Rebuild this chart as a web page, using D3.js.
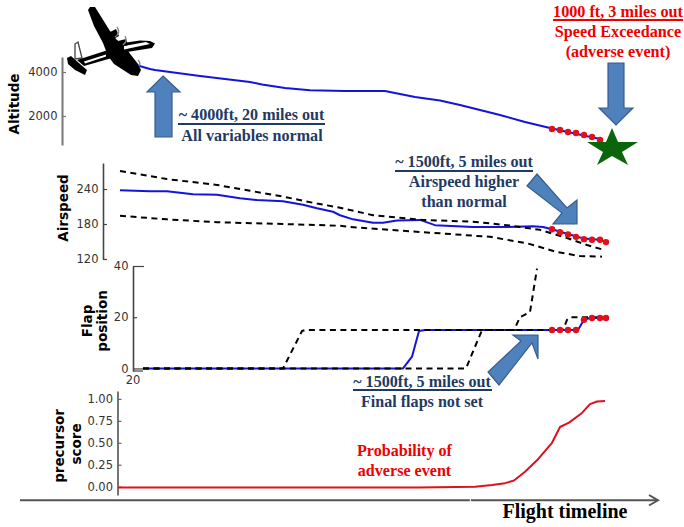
<!DOCTYPE html>
<html><head><meta charset="utf-8">
<script src="https://cdnjs.cloudflare.com/ajax/libs/d3/7.8.5/d3.min.js"></script>
<style>html,body{margin:0;padding:0;background:#fff}svg{display:block}</style></head>
<body><svg id="c" width="684" height="527"></svg>
<script>
// time axis shared by all panels (flight time index)
const altTime=[18,32,37,82,132,144,167,192,227,267,282,297,322,342,362,382,407,432,452,482];
const altitude=[4318,4136,4090,3818,3545,3432,3270,3170,3136,3136,3000,2864,2705,2500,2273,2045,1727,1455,1250,955];
const altDotTime=[434,442,450,458,466,474,482];
const altDots=[1409,1364,1273,1227,1136,1045,909];

const spdTime=[2,32,49,75,99,122,139,165,185,199,215,222,235,255,265,279,302,317,355,389,415,425,434,450,466,481,487];
const spdMean=[238,236,236,231,230,224,221,219,213,207,201,195,188,182,182,186,187,178,175,175,176,175,171,163,155,153,150];
const spdUpperTime=[2,49,99,132,165,199,222,232,255,305,355,389,422,449,469,487];
const spdUpper=[271,257,247,237,227,215,208,204,195,187,184,178,170,156,144,135];
const spdLowerTime=[2,49,99,165,222,232,272,322,372,409,439,462,484];
const spdLower=[194,188,183,180,177,175,170,164,158,147,132,125,124];
const spdDotTime=[434,442,450,458,466,474,482,488];
const spdDots=[171,166,162,158,154,153,153,149];

const flapTime=[25,285,294,301,307,320,457,460,466,472,488];
const flapMean=[0,0,4.6,14.6,15,15,15,15,19,19.7,19.7];
const flapUpperTime=[25,165,184,187,396,402,412,419];
const flapUpper=[0,0,14.6,15,15,20,22,39];
const flapLowerTime=[25,348,364,445,449,452,488];
const flapLower=[0,0,15,15,19,20,20];
const flapDotTime=[434,442,450,458,466,474,482,488];
const flapDots=[15,15,15,15,19,19.7,19.7,19.7];

const scoreTime=[0,100,200,300,357,374,387,396,407,419,434,442,451,464,472,479,487];
const score=[-0.01,-0.01,-0.01,-0.01,0,0.02,0.04,0.07,0.17,0.3,0.5,0.68,0.73,0.84,0.94,0.97,0.975];

const altTicks=[4000,2000], spdTicks=[240,180,120], flapTicks=[40,20,0], scoreTicks=[1,0.75,0.5,0.25,0];
const flapXLabel=["20"];

const BLUE="#1414dc",RED="#e0101c",DARK="#1f3a63",SERIF="'Liberation Serif',serif",SANS="'DejaVu Sans',sans-serif";
const svg=d3.select("#c");
const x=d3.scaleLinear().domain([0,488]).range([118,606]);
const yA=d3.scaleLinear().domain([682,4682]).range([145,57]);
const yS=d3.scaleLinear().domain([120,284.6]).range([259,163]);
const yF=d3.scaleLinear().domain([-1,40]).range([371,266]);
const yP=d3.scaleLinear().domain([-0.095,1.09]).range([495,391]);

function axis(scale,ticks,px,fmt,col,w){
  const g=svg.append("g").attr("transform",`translate(${px},0)`)
    .call(d3.axisLeft(scale).tickValues(ticks).tickSizeInner(-4).tickSizeOuter(0).tickPadding(4.5).tickFormat(fmt));
  g.select(".domain").attr("stroke",col).attr("stroke-width",w);
  g.selectAll(".tick line").attr("stroke",col).attr("stroke-width",1.2);
  g.selectAll("text").attr("font-family",SANS).attr("font-size",11.5).attr("fill","#333");
  return g;
}
function line(ts,vs,y,col,w,dash){
  const l=d3.line().x(d=>x(d[0])).y(d=>y(d[1]));
  const p=svg.append("path").attr("d",l(ts.map((t,i)=>[t,vs[i]]))).attr("fill","none")
    .attr("stroke",col).attr("stroke-width",w).attr("stroke-linejoin","round");
  if(dash)p.attr("stroke-dasharray",dash);
}
function dots(ts,vs,y){
  svg.append("g").selectAll("circle").data(ts).join("circle")
    .attr("cx",d=>x(d)).attr("cy",(d,i)=>y(vs[i])).attr("r",3.2).attr("fill",RED);
}
function txt(s,cx,by,col,size,font,weight){
  return svg.append("text").text(s).attr("x",cx).attr("y",by).attr("text-anchor","middle")
    .attr("fill",col).attr("font-size",size).attr("font-family",font||SERIF).attr("font-weight",weight||"bold");
}
function vtxt(s,cx,cy,size){
  svg.append("text").text(s).attr("transform",`translate(${cx},${cy}) rotate(-90)`).attr("text-anchor","middle")
    .attr("dominant-baseline","central").attr("font-family",SANS).attr("font-weight","bold").attr("font-size",size).attr("fill","#000");
}
function rule(x1,x2,y,col){svg.append("line").attr("x1",x1).attr("x2",x2).attr("y1",y).attr("y2",y).attr("stroke",col).attr("stroke-width",2);}
function poly(pts,fill,stroke,sw){
  svg.append("polygon").attr("points",pts.map(p=>p.join(",")).join(" ")).attr("fill",fill)
    .attr("stroke",stroke||"none").attr("stroke-width",sw||0).attr("stroke-linejoin","miter");
}

// axes
axis(yA,altTicks,62,d3.format("d"),"#777",2);
axis(yS,spdTicks,103,d3.format("d"),"#444",1.6);
const fa=axis(yF,flapTicks,133,d3.format("d"),"#444",1.6);
fa.selectAll(".tick line").filter(d=>d===40).attr("x2",11);
fa.selectAll(".tick line").filter(d=>d===0).attr("x2",10);
fa.append("line").attr("x1",0).attr("x2",10).attr("y1",yF(-1)).attr("y2",yF(-1)).attr("stroke","#444").attr("stroke-width",1.2);
axis(yP,scoreTicks,117.5,d3.format(".2f"),"#666",1.8);
svg.append("g").selectAll("text").data(flapXLabel).join("text").text(d=>d).attr("x",133).attr("y",384)
  .attr("text-anchor","middle").attr("font-family",SANS).attr("font-size",11.5).attr("fill","#333");

// axis titles
vtxt("Altitude",14,104,13.5);
vtxt("Airspeed",63,208,13.5);
vtxt("Flap",87,321,13.5);
vtxt("position",102,321,13.5);
vtxt("precursor",59,446,13.5);
vtxt("score",76,444,13.5);

// series
line(altTime,altitude,yA,BLUE,2);
dots(altDotTime,altDots,yA);
line(spdTime,spdMean,yS,BLUE,2);
line(spdUpperTime,spdUpper,yS,"#000",2,"6,4.5");
line(spdLowerTime,spdLower,yS,"#000",2,"6,4.5");
dots(spdDotTime,spdDots,yS);
line(flapTime,flapMean,yF,BLUE,2);
line(flapUpperTime,flapUpper,yF,"#000",2,"6,4.5");
line(flapLowerTime,flapLower,yF,"#000",2,"6,4.5");
dots(flapDotTime,flapDots,yF);
line(scoreTime,score,yP,RED,2);

// timeline arrow
svg.append("line").attr("x1",20).attr("x2",657).attr("y1",500.3).attr("y2",500.3).attr("stroke","#555").attr("stroke-width",2);
svg.append("line").attr("x1",470).attr("x2",470.8).attr("y1",498).attr("y2",503).attr("stroke","#fff").attr("stroke-width",1);
svg.append("path").attr("d","M649,495 L658,500.3 L649,505.5").attr("fill","none").attr("stroke","#555").attr("stroke-width",2);
txt("Flight timeline",565,518,"#000",20);

// star
poly([[612,128],[618,142],[638,142],[622,152],[628,165],[612,156],[597,165],[603,152],[587,142],[606,142]],"#0b660b");

// callout arrows
const AF="#4f81bd",AS="#385d8a";
poly([[163,76],[180,92],[172,92],[172,137],[155,137],[155,92],[147,92]],AF,AS,1.2);
poly([[608,63],[624,63],[624,108],[633,108],[616,125],[599,108],[608,108]],AF,AS,1.2);
poly([[527,186],[537,174],[567,208],[577,200],[577,224],[553,224],[562,213]],AF,AS,1.2);
poly([[538,335],[538,359],[532,343],[499,385],[488,372],[521,341],[513,335]],AF,AS,1.2);

// annotations
txt("1000 ft, 3 miles out",618,17,"#f00000",16.2); rule(553,683,20,"#f00000");
txt("Speed Exceedance",618,37,"#f00000",16.2);
txt("(adverse event)",618,57,"#f00000",16.2);
txt("~ 4000ft, 20 miles out",251.5,120,DARK,16.1); rule(178,325,124,DARK);
txt("All variables normal",252,141,DARK,16.1);
txt("~ 1500ft, 5 miles out",464,167,DARK,16.1); rule(395,533,171,DARK);
txt("Airspeed higher",464,187,DARK,16.1);
txt("than normal",464,207,DARK,16.1);
txt("~ 1500ft, 5 miles out",422,387,DARK,16.1); rule(353,492,390,DARK);
txt("Final flaps not set",422,407,DARK,16.1);
txt("Probability of",404.5,456,"#f00000",16.1);
txt("adverse event",404.5,476,"#f00000",16.1);

// aeroplane silhouette
const pl=svg.append("g");
function pp(d,fill,stroke,sw){pl.append("path").attr("d",d).attr("fill",fill).attr("stroke",stroke||"none").attr("stroke-width",sw||0);}
pp("M75,59 L75,44 L78,42 L82,58 Z","#fff","#444",1.3);
pp("M67,58 L71,56 L80,64 L87,70 L85,75 L75,70 L68,64 Z","#000");
pp("M88,10 L90,7 L95,7 L110,31 L116,39 L124,46 L138,64 L141,70 L138,76 L131,75 L114,64 L108,56 L103,43 L94,26 Z","#000");
pp("M77,60 L105,51 L123,43 L140,40.5 L150,41 L155,43.5 L152,48 L127,52 L112,58 L84,66 Z","#000");
pp("M84,61.5 L106,54.5 L106,56.5 L85,63.5 Z","#fff");
pp("M124,46 L146,42 L150,44 L124,49.5 Z","#fff");
pp("M108,33 L116,29 L119,36 L112,40 Z","#000");
pp("M118,41 L126,39 L128,45 L121,47 Z","#000");
pl.append("path").attr("d","M117,27 Q121,33 115,37 M125,36 Q128,41 123,45 M138,60 Q141,63 139,66").attr("fill","none").attr("stroke","#888").attr("stroke-width",1.4);
</script></body></html>
